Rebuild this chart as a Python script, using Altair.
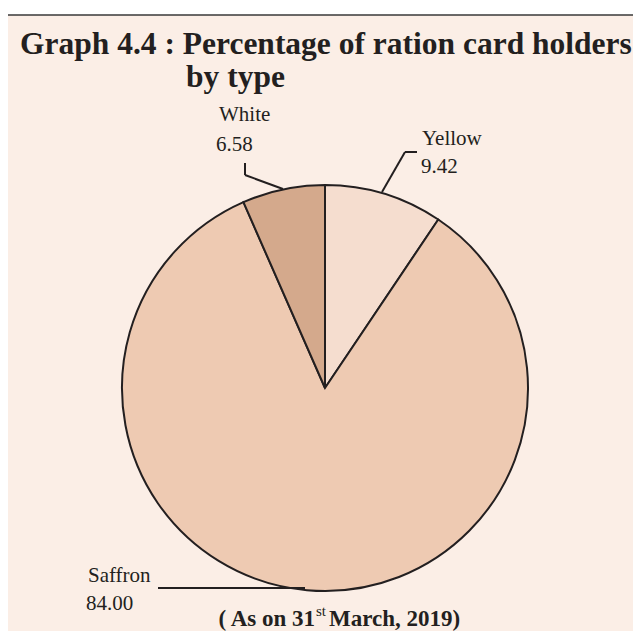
import altair as alt
import pandas as pd

categories = ["Yellow", "Saffron", "White"]
values = [9.42, 84.00, 6.58]
colors = ["#F5DDCF", "#EECAB2", "#D4A98C"]
value_labels = ["9.42", "84.00", "6.58"]

title_lines = ["Graph 4.4 : Percentage of ration card holders", "by type"]
caption_parts = ["( As on 31", "st", "March, 2019)"]

OX, OY = 8, 8  # page margin offset
BG = "#FBEEE6"
SERIF = "Liberation Serif"

pie_df = pd.DataFrame({"type": categories, "pct": values, "order": [0, 1, 2]})
dummy = pd.DataFrame({"a": [0]})

background = alt.Chart(dummy).mark_rect(
    fill=BG, stroke="#3a3a3a", strokeWidth=1.5
).encode(
    x=alt.value(7 - OX), x2=alt.value(700), y=alt.value(15 - OY), y2=alt.value(700)
)

pie = alt.Chart(pie_df).mark_arc(
    radius=203, stroke="#231f20", strokeWidth=2
).encode(
    theta=alt.Theta("pct:Q", stack=True),
    order=alt.Order("order:Q"),
    color=alt.Color("type:N", scale=alt.Scale(domain=categories, range=colors), legend=None),
    x=alt.value(325 - OX),
    y=alt.value(388 - OY),
)

# leader lines (page coordinates)
segments = [
    (245, 163, 245, 175),
    (245, 175, 283, 189),
    (417, 152, 405, 152),
    (405, 152, 382, 192),
    (158, 588, 305, 588),
]
leader_layers = []
for (x1, y1, x2, y2) in segments:
    leader_layers.append(
        alt.Chart(dummy).mark_rule(color="#231f20", strokeWidth=2).encode(
            x=alt.value(x1 - OX), x2=alt.value(x2 - OX),
            y=alt.value(y1 - OY), y2=alt.value(y2 - OY)
        )
    )

def text(t, x, y, size, weight="normal", align="left"):
    return alt.Chart(dummy).mark_text(
        text=t, font=SERIF, fontSize=size, fontWeight=weight, align=align,
        baseline="alphabetic", color="#231f20"
    ).encode(x=alt.value(x - OX), y=alt.value(y - OY))

labels = [
    text(categories[2], 219, 121, 21),
    text(value_labels[2], 216, 151, 21),
    text(categories[0], 422, 145, 21),
    text(value_labels[0], 421, 173, 21),
    text(categories[1], 88, 582, 21),
    text(value_labels[1], 86, 610, 21),
]

titles = [
    text(title_lines[0], 20, 54, 31.5, "bold"),
    text(title_lines[1], 186, 87, 31.5, "bold"),
]

caption = [
    text(caption_parts[0], 315, 626, 23, "bold", "right"),
    text(caption_parts[1], 316, 616, 15, "normal"),
    text(caption_parts[2], 329, 626, 23, "bold"),
]

chart = alt.layer(background, pie, *leader_layers, *labels, *titles, *caption).properties(
    width=625, height=623, padding=0, autosize="none", background="white"
).configure_view(stroke=None)

chart.save("out.html", embed_options={"renderer": "svg", "actions": False})
